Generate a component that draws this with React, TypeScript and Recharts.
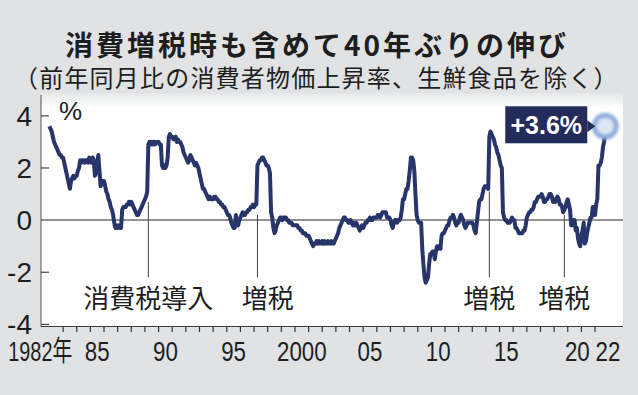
import { LineChart, Line, XAxis, YAxis, ReferenceLine, ReferenceDot } from 'recharts'

// 生鮮食品を除く総合、前年同月比（%）、月次
const cpi1980s = [
  3.6, 3.5, 3.4, 3.2, 3.0, 2.9, 2.8, 2.7, 2.6, 2.5, 2.5, 2.4,
  2.4, 2.2, 2.0, 1.8, 1.6, 1.4, 1.2, 1.5, 1.6, 1.7, 1.6, 1.7,
  1.7, 1.9, 2.0, 2.3, 2.2, 2.3, 2.3, 2.2, 2.3, 2.3, 2.2, 2.4,
  2.3, 2.2, 2.4, 2.3, 1.7, 1.8, 2.2, 2.5, 1.9, 1.3, 1.5, 1.5,
  1.5, 1.3, 1.1, 1.0, 0.8, 0.7, 0.5, 0.4, 0.2, -0.1, -0.3, -0.2,
  -0.3, -0.2, -0.3, -0.3, 0.4, 0.5, 0.5, 0.5, 0.6, 0.6, 0.7, 0.6,
  0.7, 0.6, 0.5, 0.4, 0.3, 0.2, 0.2, 0.3, 0.4, 0.5, 0.6, 0.7,
  0.8, 0.9, 1.1, 2.9, 3.0, 2.9, 3.0, 2.9, 3.0, 2.9, 3.0, 3.0,
]
const cpi1990s = [
  3.0, 2.9, 2.9, 2.1, 2.0, 2.1, 2.0, 2.1, 2.4, 3.2, 3.3, 3.2,
  3.2, 3.1, 3.1, 3.2, 3.0, 3.1, 3.0, 3.0, 2.9, 2.8, 2.6, 2.5,
  2.4, 2.3, 2.2, 2.3, 2.5, 2.4, 2.3, 2.2, 2.1, 2.2, 2.1, 2.0,
  1.8, 1.6, 1.4, 1.2, 1.2, 1.1, 1.0, 0.9, 0.8, 0.9, 0.8, 0.8,
  0.8, 0.9, 0.9, 0.8, 0.8, 0.7, 0.7, 0.6, 0.6, 0.5, 0.5, 0.4,
  0.3, 0.2, 0.2, 0.1, -0.1, -0.2, -0.3, -0.3, 0.2, -0.1, -0.2, 0.0,
  0.1, 0.2, 0.3, 0.2, 0.2, 0.3, 0.3, 0.4, 0.4, 0.5, 0.5, 0.6,
  0.5, 0.6, 0.6, 2.1, 2.2, 2.3, 2.3, 2.4, 2.4, 2.3, 2.2, 2.1,
  2.1, 2.0, 1.8, 0.3, 0.1, -0.3, -0.5, -0.4, -0.2, -0.1, 0.0, 0.1,
  0.1, 0.0, 0.1, 0.1, 0.1, 0.0, 0.0, -0.1, -0.1, -0.1, -0.2, -0.2,
]
const cpi2000s = [
  -0.2, -0.2, -0.2, -0.3, -0.3, -0.4, -0.4, -0.5, -0.5, -0.5, -0.6, -0.6,
  -0.6, -0.7, -0.8, -0.9, -1.0, -0.9, -0.9, -0.8, -0.9, -0.8, -0.9, -0.9,
  -0.8, -0.9, -0.8, -0.9, -0.9, -0.8, -0.9, -0.9, -0.8, -0.9, -0.9, -0.8,
  -0.7, -0.6, -0.5, -0.3, -0.2, -0.1, 0.0, 0.1, 0.1, 0.0, 0.0, -0.1,
  -0.1, 0.0, -0.1, -0.2, -0.1, -0.2, -0.1, -0.2, -0.3, -0.4, -0.3, -0.2,
  -0.3, -0.2, -0.1, -0.1, 0.0, 0.0, 0.1, 0.0, 0.0, 0.1, 0.1, 0.1,
  0.1, 0.2, 0.2, 0.1, 0.2, 0.3, 0.3, 0.3, 0.3, 0.1, 0.1, 0.1,
  0.0, -0.2, -0.3, -0.1, 0.0, 0.0, -0.1, 0.0, 0.0, 0.1, 0.4, 0.8,
  0.8, 1.0, 1.2, 1.2, 1.5, 1.9, 2.4, 2.4, 2.3, 1.9, 1.0, 0.2,
  0.0, -0.1, -0.1, -0.1, -1.1, -1.7, -2.2, -2.4, -2.3, -2.2, -1.7, -1.3,
]
const cpi2010s = [
  -1.3, -1.2, -1.2, -1.5, -1.2, -1.0, -1.1, -1.0, -1.1, -0.6, -0.5, -0.5,
  -0.4, -0.3, -0.2, -0.2, 0.0, 0.1, 0.1, 0.2, 0.1, -0.1, -0.2, -0.1,
  -0.1, 0.1, 0.2, 0.1, 0.0, -0.2, -0.3, -0.2, -0.1, -0.1, -0.1, -0.1,
  -0.1, -0.2, -0.4, -0.5, -0.1, 0.3, 0.7, 0.8, 0.8, 1.0, 1.2, 1.3,
  1.3, 1.3, 1.2, 3.2, 3.4, 3.3, 3.2, 3.1, 2.9, 2.8, 2.6, 2.5,
  2.3, 2.1, 2.0, 0.3, 0.1, 0.0, 0.0, -0.1, -0.1, -0.1, 0.0, 0.1,
  0.0, 0.0, -0.3, -0.3, -0.4, -0.5, -0.5, -0.5, -0.5, -0.4, -0.4, -0.2,
  0.1, 0.2, 0.3, 0.3, 0.4, 0.4, 0.5, 0.7, 0.7, 0.8, 0.9, 0.9,
  0.9, 1.0, 0.9, 0.7, 0.7, 0.8, 0.8, 0.9, 1.0, 1.0, 0.9, 0.7,
  0.8, 0.7, 0.8, 0.9, 0.8, 0.6, 0.6, 0.5, 0.3, 0.4, 0.5, 0.7,
]
const cpi2020s = [
  0.8, 0.6, 0.4, -0.2, -0.2, 0.0, 0.0, -0.4, -0.3, -0.7, -0.9, -1.0,
  -0.6, -0.4, -0.1, -0.9, -0.8, -0.5, -0.3, -0.1, 0.1, 0.1, 0.5, 0.5,
  0.2, 0.6, 0.8, 2.1, 2.1, 2.2, 2.4, 2.8, 3.0, 3.6,
]

const FIRST_YEAR = 1982
const LAST_TICK_YEAR = 2022
const Y_TICKS = [-4, -2, 0, 2, 4]
const Y_DOMAIN = [-4.1, 4.8]
// ラベル位置（年）。20と22は重ならないよう少し右へ
const X_LABEL_AT = [1982.5, 1985.5, 1990.5, 1995.5, 2000.5, 2005.5, 2010.5, 2015.5, 2020.7, 2022.95]
const X_LABELS = ['1982年', '85', '90', '95', '2000', '05', '10', '15', '20', '22']

// 消費税の導入・増税（実施月）
const EVENTS = [
  { at: 1989.25, from: 0.7, label: '消費税導入', shift: 0 },
  { at: 1997.25, from: 0.2, label: '増税', shift: 0.75 },
  { at: 2014.25, from: 1.1, label: '増税', shift: 0 },
  { at: 2019.75, from: 0.2, label: '増税', shift: 0 },
]

const data = [...cpi1980s, ...cpi1990s, ...cpi2000s, ...cpi2010s, ...cpi2020s].map((v, i) => ({
  t: FIRST_YEAR + i / 12,
  v,
}))
const last = data[data.length - 1]

const yearTicks = Array.from({ length: LAST_TICK_YEAR - FIRST_YEAR }, (_, i) => FIRST_YEAR + 1 + i)
const X_DOMAIN = [1981.38, 2024.05]
const PX_PER_YEAR = 582 / (X_DOMAIN[1] - X_DOMAIN[0])
const NAVY = '#27356a'
const NUM_FONT = '"Liberation Sans Narrow", "Liberation Sans", "Noto Sans CJK JP", sans-serif'
const JP_FONT = '"Noto Sans CJK JP", sans-serif'

const YTick = ({ x, y, payload }: any) => (
  <g>
    {payload.value !== 0 && <line x1={x} x2={x + 8} y1={y} y2={y} stroke="#444" strokeWidth={1.2} />}
    <text x={x - 9} y={y + 10} textAnchor="end" fontSize={28} fontFamily={NUM_FONT} fill="#1e1e1e">
      {payload.value}
    </text>
  </g>
)

// 年の区切りの目盛り（軸の下へ 5px）
const YearTick = ({ cx, cy }: any) => <line x1={cx} x2={cx} y1={cy} y2={cy + 5} stroke="#333" strokeWidth={1.2} />

// 年ラベル（年の中央、軸の下）
const YearLabel = ({ cx, cy, text, first }: any) => (
  <text
    x={first ? cx - 48 : cx}
    y={cy + 34}
    textAnchor={first ? 'start' : 'middle'}
    fontSize={28}
    fontFamily={NUM_FONT}
    fill="#1e1e1e"
    textLength={first ? 64 : text.length * 12.4}
    lengthAdjust="spacingAndGlyphs"
  >
    {text}
  </text>
)

const EventLabel = ({ viewBox, value, shift }: any) => (
  <text x={viewBox.x + shift} y={308} textAnchor="middle" fontSize={26} fontFamily={JP_FONT} fill="#1e1e1e">
    {value}
  </text>
)

const Callout = ({ cx, cy }: any) => (
  <g>
    <defs>
      <filter id="glow" x="-50%" y="-50%" width="200%" height="200%">
        <feGaussianBlur stdDeviation="1.6" />
      </filter>
    </defs>
    <circle cx={cx} cy={cy} r={11} fill="#dce6f5" stroke="#8eabdb" strokeWidth={5} filter="url(#glow)" />
    <rect x={cx - 100} y={cy - 20} width={82} height={37} fill="#232c5a" />
    <polygon points={`${cx - 18},${cy - 6} ${cx - 10},${cy} ${cx - 18},${cy + 6}`} fill="#232c5a" />
    <text
      x={cx - 59}
      y={cy + 8}
      textAnchor="middle"
      fontSize={25}
      fontWeight="bold"
      fontFamily='"Liberation Sans", Arial, sans-serif'
      fill="#fff"
    >
      +3.6%
    </text>
  </g>
)

export default function App() {
  return (
    <div
      style={{
        position: 'absolute',
        left: 0,
        top: 0,
        width: 638,
        height: 395,
        background: '#e1e2e4',
        overflow: 'hidden',
        color: '#1e1e1e',
      }}
    >
      <div
        style={{
          position: 'absolute',
          left: 65,
          top: 29,
          fontSize: 28,
          lineHeight: '30px',
          fontWeight: 'bold',
          letterSpacing: 3,
          fontFamily: JP_FONT,
          whiteSpace: 'nowrap',
        }}
      >
        消費増税時も含めて40年ぶりの伸び
      </div>
      <div
        style={{
          position: 'absolute',
          left: 14,
          top: 64,
          fontSize: 24,
          lineHeight: '26px',
          letterSpacing: 1.2,
          fontFamily: JP_FONT,
          whiteSpace: 'nowrap',
        }}
      >
        （前年同月比の消費者物価上昇率、生鮮食品を除く）
      </div>
      <div
        style={{
          position: 'absolute',
          left: 41,
          top: 93,
          width: 582,
          height: 233,
          background: 'linear-gradient(#e6e7e9, #ffffff 16px)',
          borderBottom: '1.5px solid #3a3a3a',
        }}
      />
      <div
        style={{
          position: 'absolute',
          left: 59,
          top: 98,
          fontSize: 26,
          lineHeight: '26px',
          fontFamily: NUM_FONT,
        }}
      >
        %
      </div>
      <div style={{ position: 'absolute', left: 0, top: 0 }}>
        <LineChart width={638} height={395} data={data} margin={{ top: 95, right: 15, bottom: 68, left: 0 }}>
          <XAxis type="number" dataKey="t" domain={X_DOMAIN} allowDataOverflow hide />
          <YAxis
            type="number"
            domain={Y_DOMAIN}
            ticks={Y_TICKS}
            interval={0}
            allowDataOverflow
            width={41}
            tickSize={0}
            tickMargin={0}
            tickLine={false}
            stroke="#555"
            tick={<YTick />}
          />
          <ReferenceLine y={0} stroke="#6f6f6f" strokeWidth={1.5} />
          {yearTicks.map((yr) => (
            <ReferenceDot key={`t${yr}`} x={yr} y={Y_DOMAIN[0]} r={0} ifOverflow="visible" shape={<YearTick />} />
          ))}
          {EVENTS.map((e, i) => (
            <ReferenceLine
              key={i}
              segment={[
                { x: e.at, y: e.from },
                { x: e.at, y: -2.2 },
              ]}
              stroke="#444"
              strokeWidth={1}
              label={<EventLabel value={e.label} shift={e.shift * PX_PER_YEAR} />}
            />
          ))}
          {X_LABEL_AT.map((at, i) => (
            <ReferenceDot
              key={`yl${i}`}
              x={at}
              y={Y_DOMAIN[0]}
              r={0}
              ifOverflow="visible"
              shape={<YearLabel text={X_LABELS[i]} first={i === 0} />}
            />
          ))}
          <ReferenceDot x={last.t} y={last.v} r={0} shape={<Callout />} />
          <Line
            type="linear"
            dataKey="v"
            stroke={NAVY}
            strokeWidth={4}
            strokeLinejoin="round"
            dot={false}
            isAnimationActive={false}
          />
        </LineChart>
      </div>
    </div>
  )
}
